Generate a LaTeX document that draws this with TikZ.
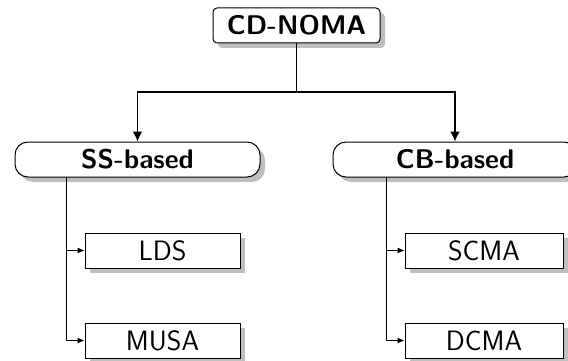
\documentclass[tikz,border=0pt]{standalone}
\usepackage{fontspec}
\usetikzlibrary{shadows,arrows.meta}
\begin{document}
\begin{tikzpicture}[x=1pt,y=1pt,
  every node/.style={font=\sffamily\fontsize{28}{30}\selectfont, inner sep=0pt},
  boxshadow/.style={drop shadow={shadow xshift=5pt,shadow yshift=-5pt,opacity=1,fill=black!25}},
  rootbox/.style={draw, fill=white, line width=1pt, rounded corners=4pt, minimum height=35pt, boxshadow, font=\sffamily\bfseries\fontsize{27}{28}\selectfont},
  groupbox/.style={draw, fill=white, line width=1pt, rounded corners=13pt, minimum height=35pt, boxshadow, font=\sffamily\bfseries\fontsize{27}{28}\selectfont},
  leafbox/.style={draw, fill=white, line width=1pt, minimum height=35pt, boxshadow},
  mainarrow/.style={line width=1.8pt, -{Latex[length=10pt,width=10pt]}},
  subarrow/.style={line width=1pt, -{Latex[length=7pt,width=6pt]}}
]
\useasboundingbox (0,0) rectangle (568,-361);

\node[rootbox, minimum width=167pt] (root) at (296.5,-25.5) {CD-NOMA};
\node[groupbox, minimum width=245pt] (ss) at (137.5,-159.5) {SS-based};
\node[groupbox, minimum width=244pt] (cb) at (455,-159.5) {CB-based};

\node[leafbox, minimum width=155pt] (lds)  at (162.5,-250.5) {LDS};
\node[leafbox, minimum width=155pt] (musa) at (162.5,-340.5) {MUSA};
\node[leafbox, minimum width=158pt] (scma) at (484,-250.5) {SCMA};
\node[leafbox, minimum width=158pt] (dcma) at (484,-340.5) {DCMA};

% top-level split
\coordinate (split) at (296.5,-92);
\draw[line width=1.8pt] (root.south) -- (split);
\draw[mainarrow] (split) -| (ss.north);
\draw[mainarrow] (split) -| (cb.north);

% branch buses
\coordinate (ssbus) at (66,-177);
\coordinate (cbbus) at (386,-177);
\draw[subarrow] (ssbus) |- (lds.west);
\draw[subarrow] (ssbus) |- (musa.west);
\draw[subarrow] (cbbus) |- (scma.west);
\draw[subarrow] (cbbus) |- (dcma.west);
\end{tikzpicture}
\end{document}
